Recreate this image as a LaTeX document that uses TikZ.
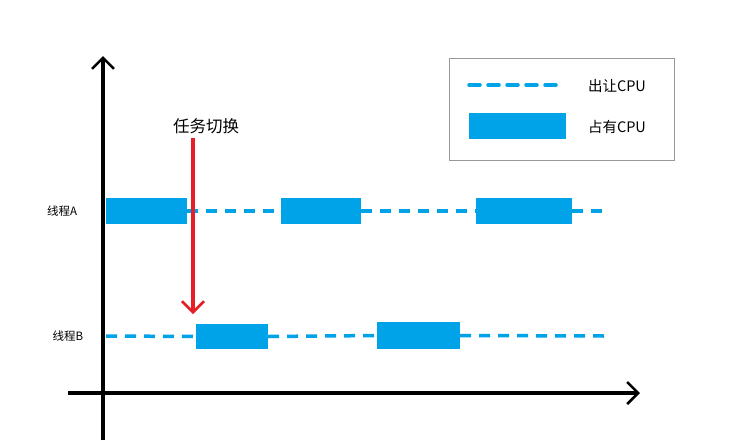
\documentclass[tikz,border=0pt]{standalone}
\usepackage{fontspec}
\newfontfamily\cjk{Noto Sans CJK SC}
\usetikzlibrary{arrows.meta}
\definecolor{cpublue}{RGB}{0,162,232}
\definecolor{switchred}{RGB}{230,30,40}
\tikzset{
  run/.style={fill=cpublue,minimum height=26pt,inner sep=0pt},
  idle/.style={cpublue,line width=3.5pt,dash pattern=on 11pt off 8pt},
  lbl/.style={font=\cjk\fontsize{11.5}{12}\selectfont},
}
\begin{document}
\begin{tikzpicture}[x=1pt,y=-1pt,>={Straight Barb[length=11pt,width=22pt,line width=2.5pt]}]
    \useasboundingbox[fill=white](0,0) rectangle (740,440);
    % axes
    \coordinate (O) at (103,393);
    \draw[->,line width=4pt](103,440)--(103,56);
    \draw[->,line width=4pt](68,393)--(640,393);
    % legend
    \node[draw=gray!80,line width=1pt,minimum width=225pt,minimum height=102pt,inner sep=0pt] (legend) at (561.5,109) {};
    \coordinate (L1) at (469,85);
    \coordinate (L2) at (563,85);
    \draw[idle,line cap=round](L1)--(L2);
    \node[run,minimum width=97pt] (Lrun) at (517.5,125.5) {};
    \node[lbl,font=\cjk\fontsize{14.5}{16}\selectfont] (t1) at (617,86) {出让CPU};
    \node[lbl,font=\cjk\fontsize{14.5}{16}\selectfont] (t2) at (617,127) {占有CPU};
    % thread A
    \node[lbl] (A) at (62,211) {线程A};
    \node[run,minimum width=81pt] (A1) at (146.5,211) {};
    \node[run,minimum width=80pt] (A2) at (321,211) {};
    \node[run,minimum width=96pt] (A3) at (524,211) {};
    \coordinate (Aend) at (605,211);
    \draw[idle](A1.east)--(A2.west);
    \draw[idle](A2.east)--(A3.west);
    \draw[idle](A3.east)--(Aend);
    % thread B
    \node[lbl] (B) at (68,336) {线程B};
    \coordinate (Bstart) at (106,336);
    \node[run,minimum width=72pt,minimum height=25pt] (B1) at (232,336.5) {};
    \node[run,minimum width=83pt,minimum height=27pt] (B2) at (418.5,335.5) {};
    \coordinate (Bend) at (605,336);
    \draw[idle](Bstart)--(B1.west);
    \draw[idle](B1.east)--(B2.west);
    \draw[idle](B2.east)--(Bend);
    % task switch
    \node[lbl,font=\cjk\fontsize{16.5}{18}\selectfont] (sw) at (206,126) {任务切换};
    \coordinate (swend) at (193,314);
    \draw[->,switchred,line width=3.5pt](193,138)--(swend);
\end{tikzpicture}
\end{document}
